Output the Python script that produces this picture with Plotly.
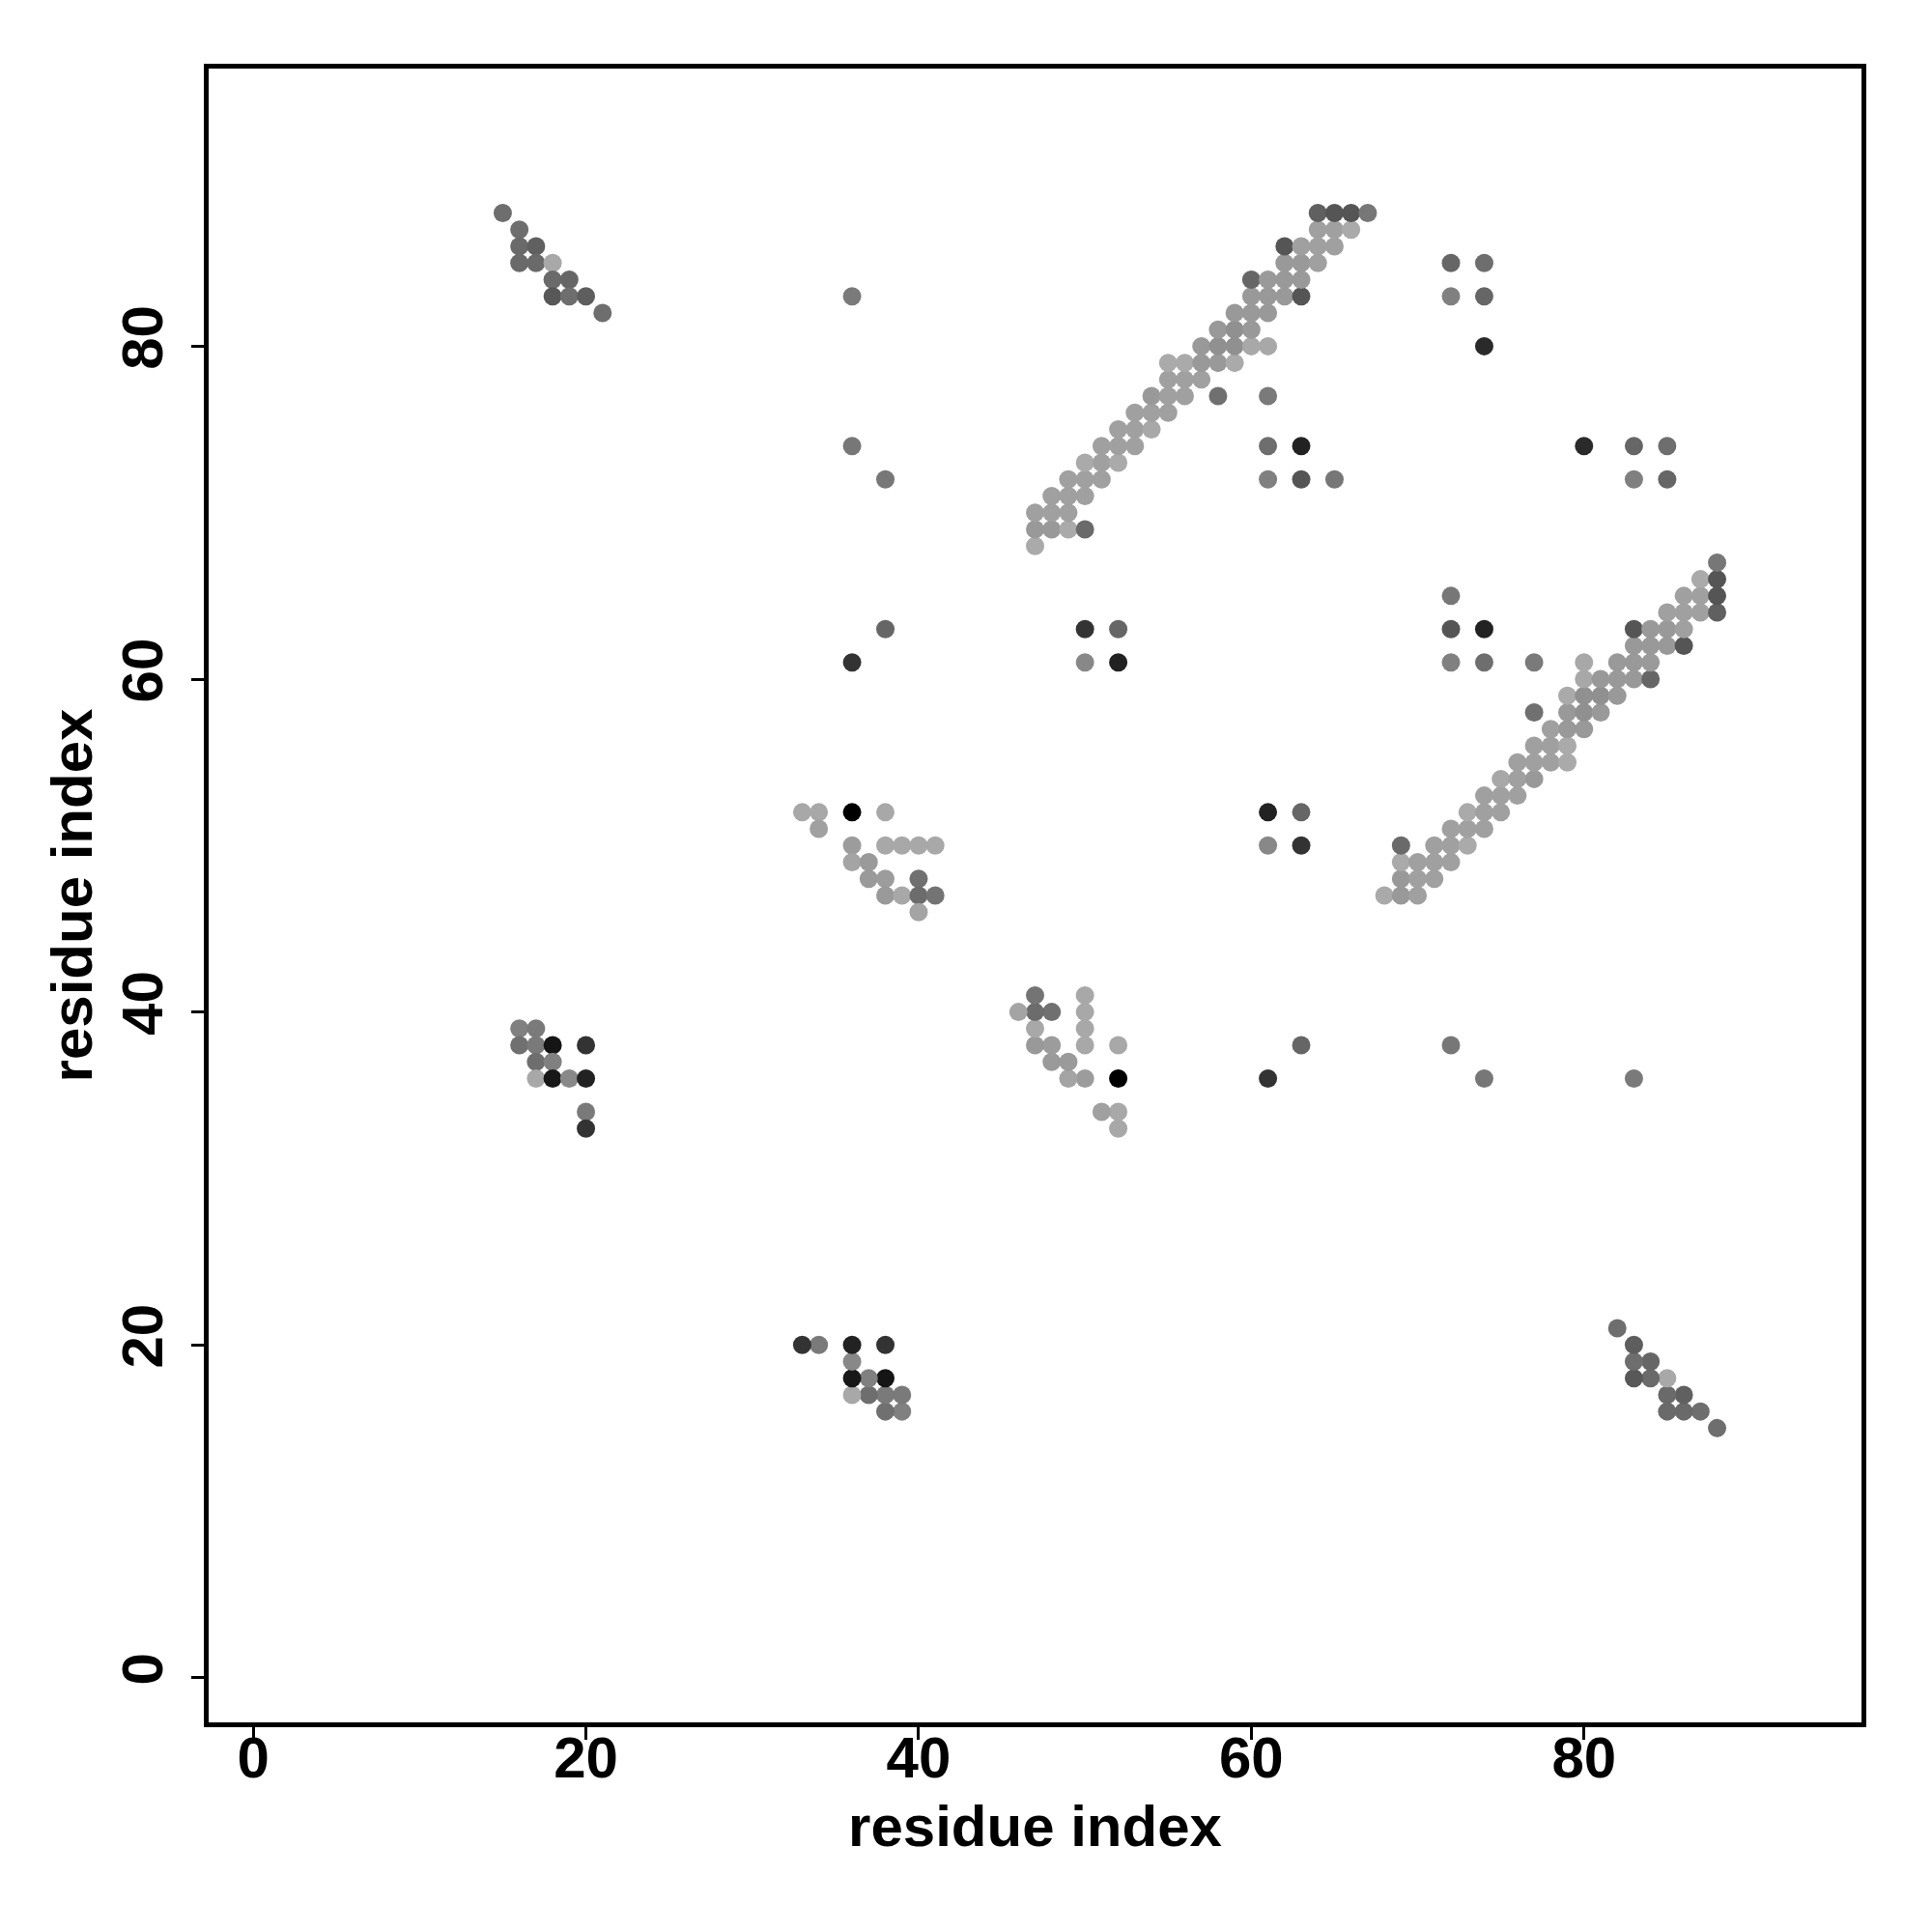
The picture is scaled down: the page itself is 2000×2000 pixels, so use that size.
import plotly.graph_objects as go

# Contact map (upper triangle, i < j); the map is symmetric so each contact is drawn twice
res_i = [
    # N-terminal / C-terminal cluster
    15, 16, 16, 17, 16, 17, 18, 18, 19, 18, 19, 20, 21,
    # cluster around residues 16-20 vs 33-39
    16, 17, 16, 17, 18, 20, 17, 18, 17, 18, 19, 20, 20, 20,
    # cluster around residues 33-41 vs 46-52
    33, 34, 36, 38, 34, 36, 38, 39, 40, 41, 36, 37, 37, 38, 40, 38, 39, 40, 41, 40,
    # isolated contacts
    36, 36, 38, 36, 38, 50, 52, 50, 52, 58, 61, 61, 63, 61, 63, 65, 72, 74, 72, 74, 74,
    # long band (47-67 vs 68-88)
    47, 47, 48, 49, 50,
    47, 48, 49,
    48, 49, 50,
    49, 50, 51,
    50, 51, 52,
    51, 52, 53,
    52, 53, 54,
    53, 54, 55,
    54, 55, 56,
    55, 56, 57,
    55, 56, 57, 58, 59,
    57, 58, 59, 60, 61,
    58, 59, 60,
    59, 60, 61,
    60, 61, 62, 63,
    60, 61, 62, 63,
    62, 63, 64,
    62, 63, 64, 65,
    64, 65, 66,
    64, 65, 66, 67,
]
res_j = [
    88, 87, 86, 86, 85, 85, 85, 84, 84, 83, 83, 83, 82,
    39, 39, 38, 38, 38, 38, 37, 37, 36, 36, 36, 36, 34, 33,
    52, 52, 52, 52, 51, 50, 50, 50, 50, 50, 49, 49, 48, 48, 48, 47, 47, 47, 47, 46,
    83, 74, 72, 61, 63, 63, 63, 61, 61, 77, 77, 74, 74, 72, 72, 72, 85, 85, 83, 83, 80,
    68, 69, 69, 69, 69,
    70, 70, 70,
    71, 71, 71,
    72, 72, 72,
    73, 73, 73,
    74, 74, 74,
    75, 75, 75,
    76, 76, 76,
    77, 77, 77,
    78, 78, 78,
    79, 79, 79, 79, 79,
    80, 80, 80, 80, 80,
    81, 81, 81,
    82, 82, 82,
    83, 83, 83, 83,
    84, 84, 84, 84,
    85, 85, 85,
    86, 86, 86, 86,
    87, 87, 87,
    88, 88, 88, 88,
]
grey = [
    0x6e, 0x6e, 0x6a, 0x60, 0x6a, 0x6a, 0xa8, 0x6a, 0x66, 0x58, 0x6e, 0x5e, 0x6e,
    0x80, 0x7a, 0x70, 0x7a, 0x15, 0x33, 0x6e, 0x80, 0xa8, 0x18, 0x88, 0x22, 0x7a, 0x33,
    0xa8, 0xa8, 0x00, 0xa8, 0xa0, 0x9c, 0xa8, 0xa8, 0xa8, 0xa8, 0xa4, 0x9a, 0x9a, 0x9c, 0x70, 0x99, 0xa8, 0x6c, 0x74, 0xa4,
    0x7a, 0x77, 0x77, 0x33, 0x66, 0x33, 0x66, 0x88, 0x22, 0x70, 0x7a, 0x6e, 0x22, 0x80, 0x55, 0x77, 0x66, 0x6e, 0x80, 0x66, 0x2a,
    0xaa, 0x99, 0x99, 0xaa, 0x6a,
    0xa0, 0xa0, 0xa0,
    0xa0, 0xa0, 0xa0,
    0xa0, 0xa0, 0xa0,
    0xaa, 0xa0, 0xaa,
    0xa0, 0xa0, 0xa0,
    0xa0, 0xa0, 0xa8,
    0xa0, 0xa0, 0xa0,
    0x99, 0xa0, 0xa0,
    0xa0, 0xa0, 0xa0,
    0xaa, 0xaa, 0x99, 0x99, 0xaa,
    0x99, 0x90, 0x90, 0xa8, 0xa8,
    0x99, 0x90, 0x99,
    0x99, 0x99, 0x99,
    0x99, 0x99, 0x99, 0x55,
    0x66, 0x9a, 0x99, 0x99,
    0x99, 0x99, 0xa0,
    0x55, 0xa0, 0xa0, 0xa0,
    0xa0, 0xa0, 0xaa,
    0x60, 0x55, 0x55, 0x77,
]

tick_values = [0, 20, 40, 60, 80]
tick_labels = ["0", "20", "40", "60", "80"]
axis_title = "residue index"

xs = res_i + res_j
ys = res_j + res_i
cols = [f"rgb({g},{g},{g})" for g in grey] * 2

fig = go.Figure(
    go.Scatter(
        x=xs, y=ys, mode="markers",
        marker=dict(size=19, color=cols, line=dict(width=0)),
        hoverinfo="skip",
    )
)

font_bold = dict(family="Liberation Sans", size=60, color="black", weight="bold")
common = dict(
    range=[-2.68, 96.68],
    tickvals=tick_values,
    ticktext=tick_labels,
    ticks="outside",
    ticklen=13,
    tickwidth=2.5,
    tickcolor="black",
    showgrid=False,
    zeroline=False,
    showline=True,
    linecolor="black",
    linewidth=5,
    mirror=True,
    tickfont=font_bold,
)
fig.update_xaxes(**common, ticklabelstandoff=-33,
                 title=dict(text=axis_title, font=font_bold, standoff=18))
fig.update_yaxes(**common, tickangle=-90, ticklabelstandoff=6,
                 title=dict(text=axis_title, font=font_bold, standoff=1))
fig.update_layout(
    width=2000, height=2000,
    margin=dict(l=208, r=81, t=63, b=225),
    plot_bgcolor="white", paper_bgcolor="white",
    showlegend=False,
)
fig.write_html("out.html")
